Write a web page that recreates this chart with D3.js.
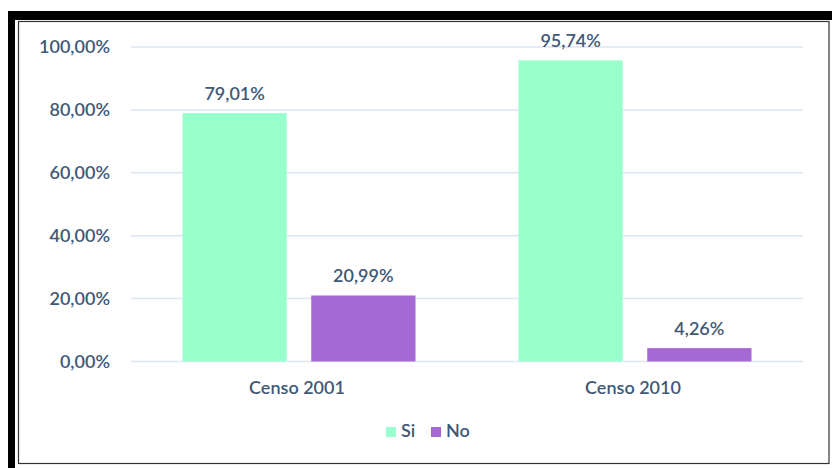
<!DOCTYPE html>
<html><head><meta charset="utf-8">
<script src="https://cdn.jsdelivr.net/npm/d3@7"></script>
<style>body{margin:0;background:#fff}svg{display:block}</style>
</head><body>
<svg id="c" width="832" height="468"></svg>
<script>
const categories = ["Censo 2001", "Censo 2010"];
const seriesNames = ["Si", "No"];
const siValues = [79.01, 95.74];
const noValues = [20.99, 4.26];
const yTicks = [0, 20, 40, 60, 80, 100];
const colors = {Si: "#99FFCC", No: "#A569D4"};
const fmt = v => d3.format(".2f")(v).replace(".", ",") + "%";

const svg = d3.select("#c");
const font = "Lato, 'Open Sans', sans-serif";
const textColor = "#3F5877";
const fs = 18, fw = 600;

// frame
svg.append("rect").attr("x", 8).attr("y", 11).attr("width", 824).attr("height", 9).attr("fill", "#000");
svg.append("rect").attr("x", 8).attr("y", 11).attr("width", 7).attr("height", 457).attr("fill", "#000");
svg.append("rect").attr("x", 18.5).attr("y", 21.5).attr("width", 810.5).attr("height", 442).attr("fill", "none").attr("stroke", "#333").attr("stroke-width", 1.2);

const groupW = 233;
const x0 = d3.scaleBand().domain(categories).range([131, 803]);
const x1 = d3.scaleBand().domain(seriesNames).range([0, groupW]).paddingInner(0.19);
const y = d3.scaleLinear().domain([0, 100]).range([361.5, 47]);

// grid
svg.append("g").selectAll("line").data(yTicks).join("line")
  .attr("x1", 131).attr("x2", 803)
  .attr("y1", d => y(d)).attr("y2", d => y(d))
  .attr("stroke", "#DCE6F4").attr("stroke-width", 1.5);

// y labels
svg.append("g").selectAll("text").data(yTicks).join("text")
  .attr("x", 110).attr("y", d => y(d)).attr("dy", "0.35em")
  .attr("text-anchor", "end").attr("font-family", font).attr("font-size", fs).attr("font-weight", fw)
  .attr("fill", textColor).text(d => fmt(d));

const data = categories.map((c, i) => ({cat: c, vals: [{k: "Si", v: siValues[i]}, {k: "No", v: noValues[i]}]}));
const groups = svg.append("g").selectAll("g").data(data).join("g")
  .attr("transform", d => `translate(${x0(d.cat) + (x0.bandwidth() - groupW) / 2},0)`);
groups.selectAll("rect").data(d => d.vals).join("rect")
  .attr("x", d => x1(d.k)).attr("width", x1.bandwidth())
  .attr("y", d => y(d.v)).attr("height", d => y(0) - y(d.v))
  .attr("fill", d => colors[d.k]);
groups.selectAll("text").data(d => d.vals).join("text")
  .attr("x", d => x1(d.k) + x1.bandwidth() / 2).attr("y", d => y(d.v) - 13)
  .attr("text-anchor", "middle").attr("font-family", font).attr("font-size", fs).attr("font-weight", fw)
  .attr("fill", textColor).text(d => fmt(d.v));

// x labels
svg.append("g").selectAll("text").data(categories).join("text")
  .attr("x", d => x0(d) + x0.bandwidth() / 2 - 2).attr("y", 394)
  .attr("text-anchor", "middle").attr("font-family", font).attr("font-size", fs).attr("font-weight", fw)
  .attr("fill", textColor).text(d => d);

// legend
const leg = svg.append("g").selectAll("g").data(seriesNames).join("g")
  .attr("transform", (d, i) => `translate(${386 + i * 45},427)`);
leg.append("rect").attr("width", 10).attr("height", 10).attr("fill", d => colors[d]);
leg.append("text").attr("x", 15).attr("y", 10).attr("font-family", font).attr("font-size", fs).attr("font-weight", fw)
  .attr("fill", textColor).text(d => d);
</script>
</body></html>
